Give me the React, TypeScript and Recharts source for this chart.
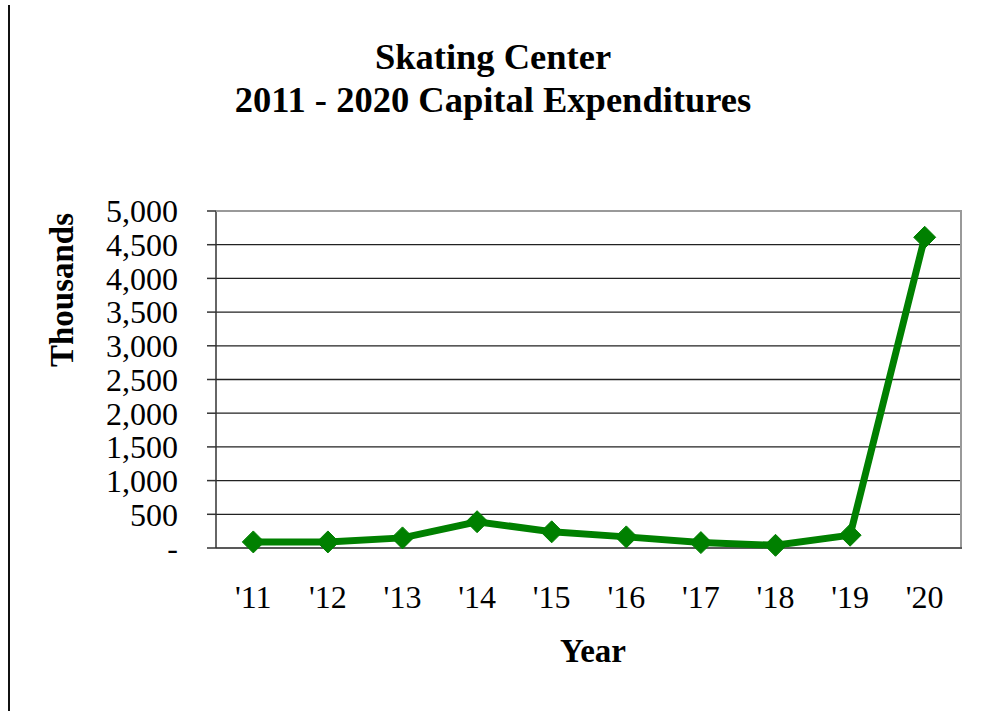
import React from 'react';
import { LineChart, Line, XAxis, YAxis, CartesianGrid } from 'recharts';

const years = ["'11", "'12", "'13", "'14", "'15", "'16", "'17", "'18", "'19", "'20"];
const expenditures = [90, 90, 150, 390, 240, 165, 80, 40, 190, 4610];
const yTicks = [0, 500, 1000, 1500, 2000, 2500, 3000, 3500, 4000, 4500, 5000];
const boundaryTicks = [0, 1, 2, 3, 4, 5, 6, 7, 8, 9, 10];
const centerTicks = years.map((_, i) => i + 0.5);

const data = years.map((y, i) => ({ x: i + 0.5, label: y, value: expenditures[i] }));

const serif = '"Liberation Serif", "Times New Roman", serif';

const Diamond = (props: any) => {
  const { cx, cy } = props;
  if (cx == null || cy == null) return null;
  const r = 11;
  return (
    <polygon
      points={`${cx},${cy - r} ${cx + r},${cy} ${cx},${cy + r} ${cx - r},${cy}`}
      fill="#008000"
      stroke="#008000"
    />
  );
};

const fmtY = (v: number) => (v === 0 ? '-' : v.toLocaleString('en-US'));

export default function App() {
  return (
    <div style={{ position: 'absolute', left: 0, top: 0, width: 981, height: 711, background: '#fff', fontFamily: serif }}>
      <div style={{ position: 'absolute', left: 8, top: 5, width: 2, height: 706, background: '#111' }} />
      <div style={{ position: 'absolute', left: 0, top: 35, width: 986, textAlign: 'center', fontWeight: 'bold', fontSize: 36.5, lineHeight: '43px', color: '#000' }}>
        <div>Skating Center</div>
        <div>2011 - 2020 Capital Expenditures</div>
      </div>
      <div style={{ position: 'absolute', left: 62, top: 290, transform: 'translate(-50%, -50%) rotate(-90deg)', fontWeight: 'bold', fontSize: 33, whiteSpace: 'nowrap', color: '#000' }}>
        Thousands
      </div>
      <div style={{ position: 'absolute', left: 593, top: 651, transform: 'translate(-50%, -50%)', fontWeight: 'bold', fontSize: 33, color: '#000' }}>
        Year
      </div>
      <div style={{ position: 'absolute', left: 0, top: 0 }}>
        <LineChart width={981} height={711} data={data} margin={{ top: 211, right: 19, bottom: 103, left: 116 }}>
          <CartesianGrid horizontal={true} vertical={false} stroke="#222" strokeWidth={1.3} />
          <XAxis
            xAxisId="marks"
            type="number"
            dataKey="x"
            domain={[0, 10]}
            ticks={boundaryTicks}
            tickFormatter={() => ''}
            tickSize={9}
            tickLine={{ stroke: '#333', strokeWidth: 1.5 }}
            axisLine={{ stroke: '#333', strokeWidth: 1.5 }}
            height={0}
            interval={0}
          />
          <XAxis
            xAxisId="labels"
            type="number"
            dataKey="x"
            domain={[0, 10]}
            ticks={centerTicks}
            tickFormatter={(v: number) => years[Math.round(v - 0.5)]}
            tickLine={false}
            axisLine={false}
            tickSize={0}
            tickMargin={37}
            height={60}
            interval={0}
            tick={{ fill: '#000', fontSize: 32, fontFamily: serif }}
          />
          <YAxis
            domain={[0, 5000]}
            ticks={yTicks}
            tickFormatter={fmtY}
            width={100}
            tickSize={9}
            tickMargin={29}
            interval={0}
            tickLine={{ stroke: '#333', strokeWidth: 1.5 }}
            axisLine={{ stroke: '#333', strokeWidth: 1.5 }}
            tick={{ fill: '#000', fontSize: 32, fontFamily: serif }}
          />
          <Line
            xAxisId="marks"
            type="linear"
            dataKey="value"
            stroke="#008000"
            strokeWidth={7}
            dot={<Diamond />}
            activeDot={false}
            isAnimationActive={false}
          />
        </LineChart>
      </div>
      <div style={{ position: 'absolute', left: 216, top: 210, width: 746, height: 337, borderTop: '2px solid #999', borderRight: '2px solid #999', boxSizing: 'border-box', pointerEvents: 'none' }} />
    </div>
  );
}
